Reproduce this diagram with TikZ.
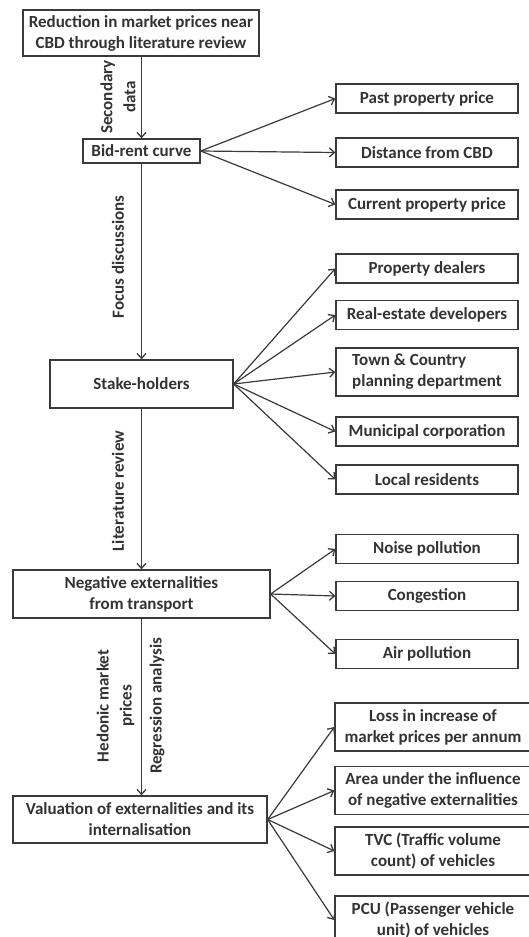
\documentclass[tikz,border=0pt]{standalone}
\usepackage{fontspec}
\setmainfont{Carlito}
\usetikzlibrary{arrows.meta}
\definecolor{ink}{HTML}{333333}
\definecolor{linec}{HTML}{3A3A3A}
\begin{document}
\begin{tikzpicture}[x=1pt,y=-1pt,
  every node/.style={font=\fontsize{17}{21}\selectfont\bfseries, text=ink},
  box/.style={draw=linec, line width=1.3pt, inner sep=0pt, align=center},
  lbl/.style={rotate=90, align=center, inner sep=0pt, font=\fontsize{17}{23}\selectfont\bfseries},
  arr/.style={draw=linec, line width=1.2pt, -{Straight Barb[length=5pt,width=9pt,line width=1.3pt]}},
  rb/.style={box, minimum width=182pt, minimum height=29pt},
  rbt/.style={box, minimum width=196pt, minimum height=48pt}]
\useasboundingbox (0,0) rectangle (529,937);
\fill[white] (0,0) rectangle (529,937);

% main column
\node[box, minimum width=236pt, minimum height=46pt] (r1) at (141,33) {Reduction in market prices near\\CBD through literature review};
\node[box, minimum width=117pt, minimum height=24pt] (bid) at (141.5,151) {Bid-rent curve};
\node[box, minimum width=183pt, minimum height=48pt] (stake) at (141.5,384) {Stake-holders};
\node[box, minimum width=257pt, minimum height=48pt] (neg) at (141.5,594) {Negative externalities\\from transport};
\node[box, minimum width=254pt, minimum height=47pt] (val) at (140,819.5) {Valuation of externalities and its\\internalisation};

% group 1
\node[rb] (past) at (427,98.5) {Past property price};
\node[rb] (dist) at (427,152.5) {Distance from CBD};
\node[rb] (curr) at (427,204.5) {Current property price};

% group 2
\node[rb] (prop) at (427,268.5) {Property dealers};
\node[rb] (real) at (427,315) {Real-estate developers};
\node[box, minimum width=182pt, minimum height=48pt, align=left] (town) at (427,372) {Town \& Country\\planning department};
\node[rb] (muni) at (427,431.5) {Municipal corporation};
\node[rb] (local) at (427,479.5) {Local residents};

% group 3
\node[rb] (noise) at (427,549) {Noise pollution};
\node[rb] (cong) at (427,596) {Congestion};
\node[rb] (air) at (427,654) {Air pollution};

% group 4
\node[rbt] (loss) at (433,727) {Loss in increase of\\market prices per annum};
\node[rbt] (area) at (433,790.5) {Area under the influence\\of negative externalities};
\node[rbt] (tvc) at (433,851) {TVC (Traffic volume\\count) of vehicles};
\node[rbt] (pcu) at (433,920) {PCU (Passenger vehicle\\unit) of vehicles};

% vertical arrows
\draw[arr] (r1.south -| bid.north) -- (bid.north);
\draw[arr] (bid.south) -- (bid.south |- stake.north);
\draw[arr] (stake.south) -- (stake.south |- neg.north);
\draw[arr] (neg.south) -- (neg.south |- val.north);

% labels
\node[lbl] (l1) at (118,97) {Secondary\\data};
\node[lbl] (l2) at (118,257) {Focus discussions};
\node[lbl] (l3) at (118,491) {Literature review};
\node[lbl] (l4) at (115.5,706) {Hedonic market\\prices};
\node[lbl] (l5) at (157,706) {Regression analysis};

% fan-out arrows
\foreach \t in {past,dist,curr} \draw[arr] (bid.east) -- (\t.west);
\foreach \t in {prop,real,town,muni,local} \draw[arr] (stake.east) -- (\t.west);
\foreach \t in {noise,cong,air} \draw[arr] (neg.east) -- (\t.west);
\foreach \t in {loss,area,tvc,pcu} \draw[arr] (val.east) -- (\t.west);
\end{tikzpicture}
\end{document}
